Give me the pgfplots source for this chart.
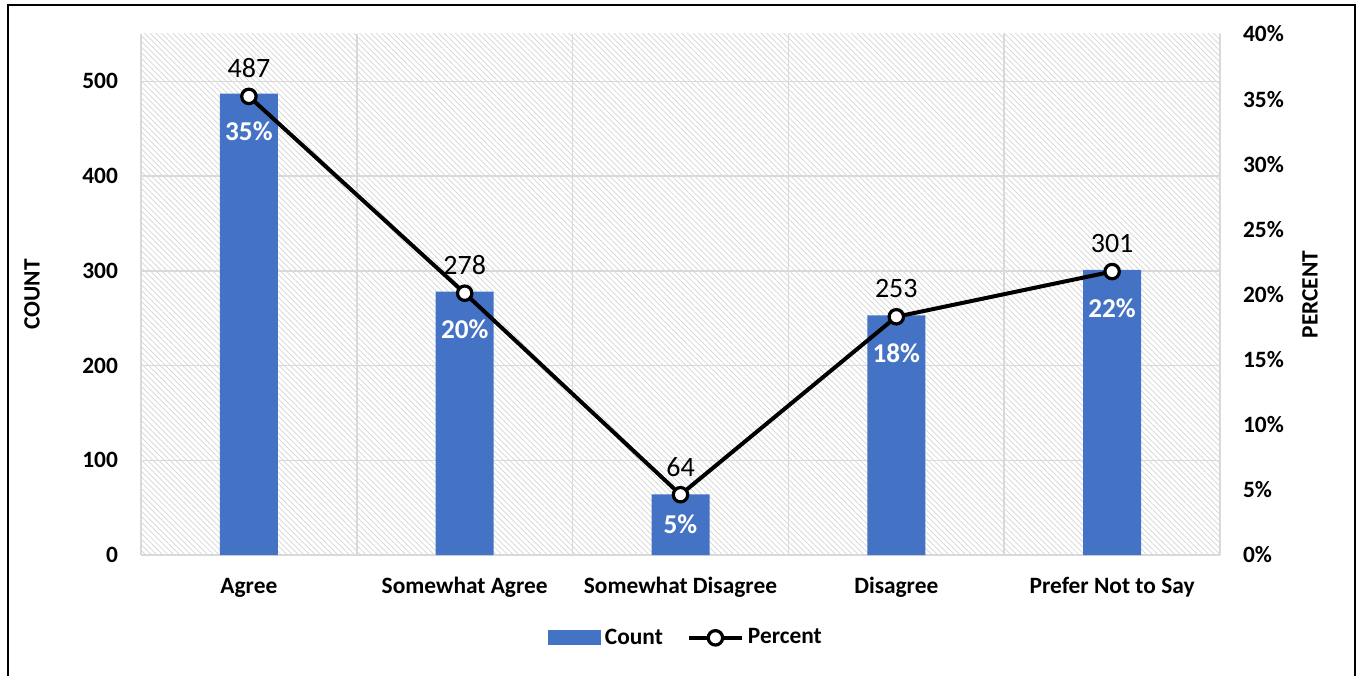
\documentclass[border=0pt]{standalone}
\usepackage{fontspec}
\setmainfont{Carlito}
\usepackage{pgfplots}
\pgfplotsset{compat=1.18}
\usetikzlibrary{patterns.meta}

\definecolor{barblue}{HTML}{4472C4}
\definecolor{gridgray}{HTML}{D9D9D9}
\definecolor{hatchgray}{HTML}{D4D4D4}

\newcommand{\lblfont}{\fontsize{11.7}{14}\selectfont\bfseries}

\pgfplotsset{
  common/.style={
    at={(70.5pt,60pt)}, anchor=south west,
    scale only axis, width=539.5pt, height=260.5pt,
    xmin=-0.5, xmax=4.5,
    /pgf/number format/assume math mode=true,
    major tick length=0pt, minor tick length=0pt,
    axis line style={draw=none},
    tick label style={font=\lblfont},
  },
}

\begin{document}
\begin{tikzpicture}
\useasboundingbox (0,0) rectangle (679.5pt,337.5pt);
\draw[line width=1pt] (4pt,-2pt) -- (4pt,335pt) -- (677.5pt,335pt) -- (677.5pt,-2pt);

% counts (left axis)
\begin{axis}[common,
  ymin=0, ymax=550, ytick={0,100,200,300,400,500},
  xtick={0,1,2,3,4},
  xticklabels={Agree, Somewhat Agree, Somewhat Disagree, Disagree, Prefer Not to Say},
  xticklabel style={text height=8.5pt, text depth=2.5pt, yshift=-7pt},
  yticklabel style={xshift=-8pt},
  minor xtick={-0.5,0.5,1.5,2.5,3.5,4.5},
  ymajorgrids, xminorgrids,
  major grid style={gridgray, line width=0.75pt},
  minor grid style={gridgray, line width=0.75pt},
  axis background/.style={pattern={Lines[angle=-45,distance=2pt,line width=0.35pt]}, pattern color=hatchgray},
  ylabel={COUNT},
  every axis y label/.style={at={(axis description cs:-0.101,0.5)}, rotate=90, anchor=center, font=\lblfont},
]
\addplot[ybar, bar width=29pt, fill=barblue, draw=none,
  nodes near coords, point meta=explicit symbolic,
  visualization depends on={rawy \as \rawy},
  every node near coord/.append style={anchor=center, yshift={-min(19,0.236*\rawy)*1pt}, text=white, font=\fontsize{13.6}{16}\selectfont\bfseries}]
  coordinates {(0,487) [35\%] (1,278) [20\%] (2,64) [5\%] (3,253) [18\%] (4,301) [22\%]};
\end{axis}

% percent (right axis)
\begin{axis}[common,
  ymin=0, ymax=0.4,
  ytick={0,0.05,0.1,0.15,0.2,0.25,0.3,0.35,0.4},
  yticklabels={0\%,5\%,10\%,15\%,20\%,25\%,30\%,35\%,40\%},
  axis y line*=right, axis x line=none,
  yticklabel style={xshift=8pt},
  ylabel={PERCENT},
  ylabel style={at={(axis description cs:1.0834,0.5)}, anchor=center, font=\lblfont},
  legend columns=2,
  legend style={at={(0.506,-0.159)}, anchor=center, draw=none, fill=none,
    font=\lblfont,
    /tikz/every even column/.append style={column sep=10pt}},
]
\addlegendimage{legend image code/.code={\fill[barblue] (0pt,-3.5pt) rectangle (26pt,3.5pt);}}
\addlegendentry{Count}
\addplot[black, line width=2pt, mark=*, mark size=3.6pt,
  mark options={fill=white, draw=black, line width=1.6pt},
  legend image code/.code={\draw[black, line width=2pt] (0pt,0pt) -- (26.5pt,0pt);
    \draw[black, line width=1.6pt, fill=white] (13.25pt,0pt) circle (3.6pt);},
  nodes near coords, point meta=explicit symbolic,
  every node near coord/.append style={anchor=center, yshift=14pt, text=black, font=\fontsize{14}{16}\selectfont}]
  coordinates {(0,0.3521) [487] (1,0.2010) [278] (2,0.0463) [64] (3,0.1829) [253] (4,0.2176) [301]};
\addlegendentry{Percent}
\end{axis}
\end{tikzpicture}
\end{document}
